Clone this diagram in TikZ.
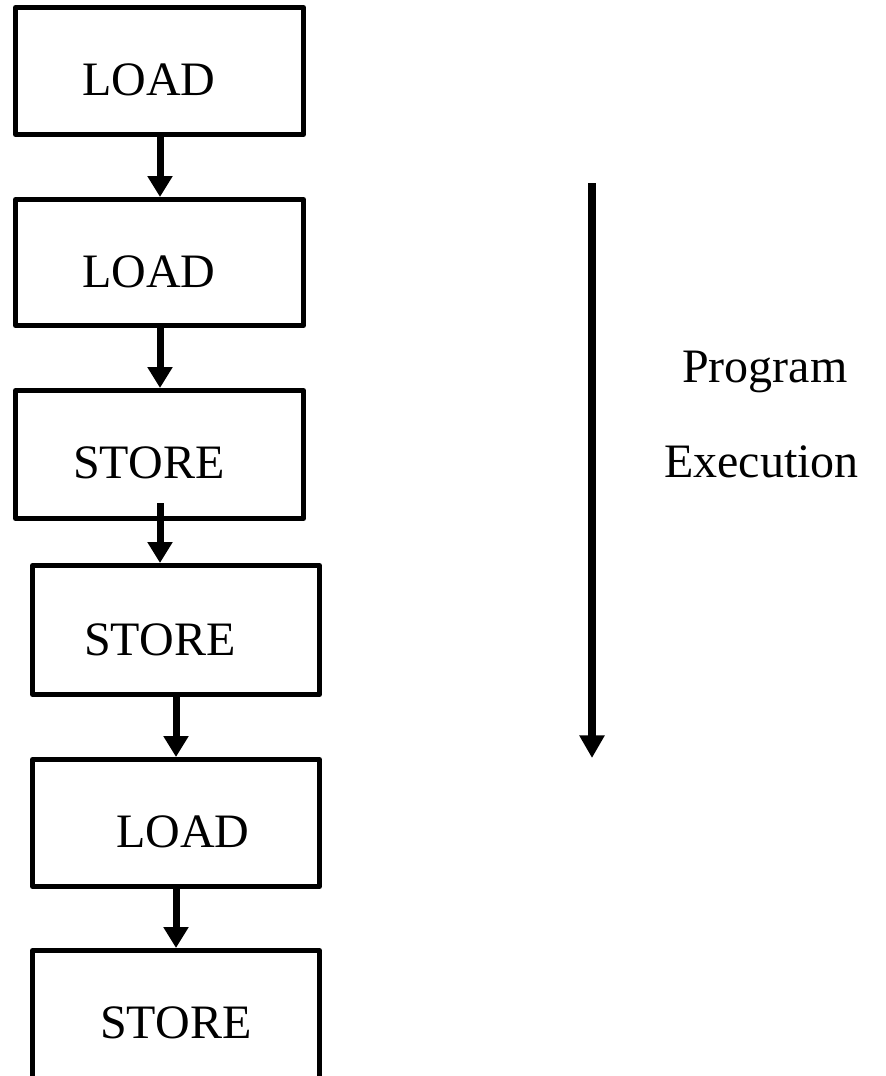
\documentclass[tikz,border=0pt]{standalone}
\usepackage{fontspec}
\setmainfont{Liberation Serif}
\usetikzlibrary{arrows.meta}
\begin{document}
\begin{tikzpicture}[x=0.75pt,y=-0.75pt,
  stepbox/.style={draw=black,line width=3.75pt,line join=round,rectangle,inner sep=0pt,fill=none},
  boxtext/.style={anchor=base west,inner sep=0pt,font=\fontsize{36pt}{40pt}\selectfont},
  flow/.style={draw=black,line width=5.25pt,-{Triangle[width=18pt,length=15.75pt]}},
  timeline/.style={draw=black,line width=6pt,-{Triangle[width=18pt,length=17pt]}}]
  \clip (0,0) rectangle (886,1076);
  \fill[white] (0,0) rectangle (886,1076);

  % instruction boxes
  \node[stepbox,minimum width=216pt,minimum height=95.25pt] (b1) at (159.5,71) {};
  \node[stepbox,minimum width=216pt,minimum height=94.5pt] (b2) at (159.5,262.5) {};
  \node[stepbox,minimum width=216pt,minimum height=96pt] (b3) at (159.5,454.5) {};
  \node[stepbox,minimum width=215.25pt,minimum height=96.75pt] (b4) at (176,630) {};
  \node[stepbox,minimum width=215.25pt,minimum height=95.25pt] (b5) at (176,823) {};
  \node[stepbox,minimum width=215.25pt,minimum height=150pt] (b6) at (176,1050.5) {};

  % instruction labels
  \node[boxtext] (t1) at (82,95) {LOAD};
  \node[boxtext] (t2) at (82,287) {LOAD};
  \node[boxtext] (t3) at (73,478) {STORE};
  \node[boxtext] (t4) at (84,655) {STORE};
  \node[boxtext] (t5) at (116,847) {LOAD};
  \node[boxtext] (t6) at (100,1038) {STORE};

  % sequence arrows
  \draw[flow] (160,0 |- b1.south) -- (160,0 |- b2.north);
  \draw[flow] (160,0 |- b2.south) -- (160,0 |- b3.north);
  \coordinate (s3) at (160,503);
  \draw[flow] (s3) -- (s3 |- b4.north);
  \draw[flow] (b4.south) -- (b5.north);
  \draw[flow] (b5.south) -- (b6.north);

  % program execution direction
  \coordinate (petop) at (592,183);
  \coordinate (peend) at (592,758);
  \draw[timeline] (petop) -- (peend);
  \node[boxtext] (prog) at (682,382) {Program};
  \node[boxtext] (exec) at (664,477) {Execution};
\end{tikzpicture}
\end{document}
